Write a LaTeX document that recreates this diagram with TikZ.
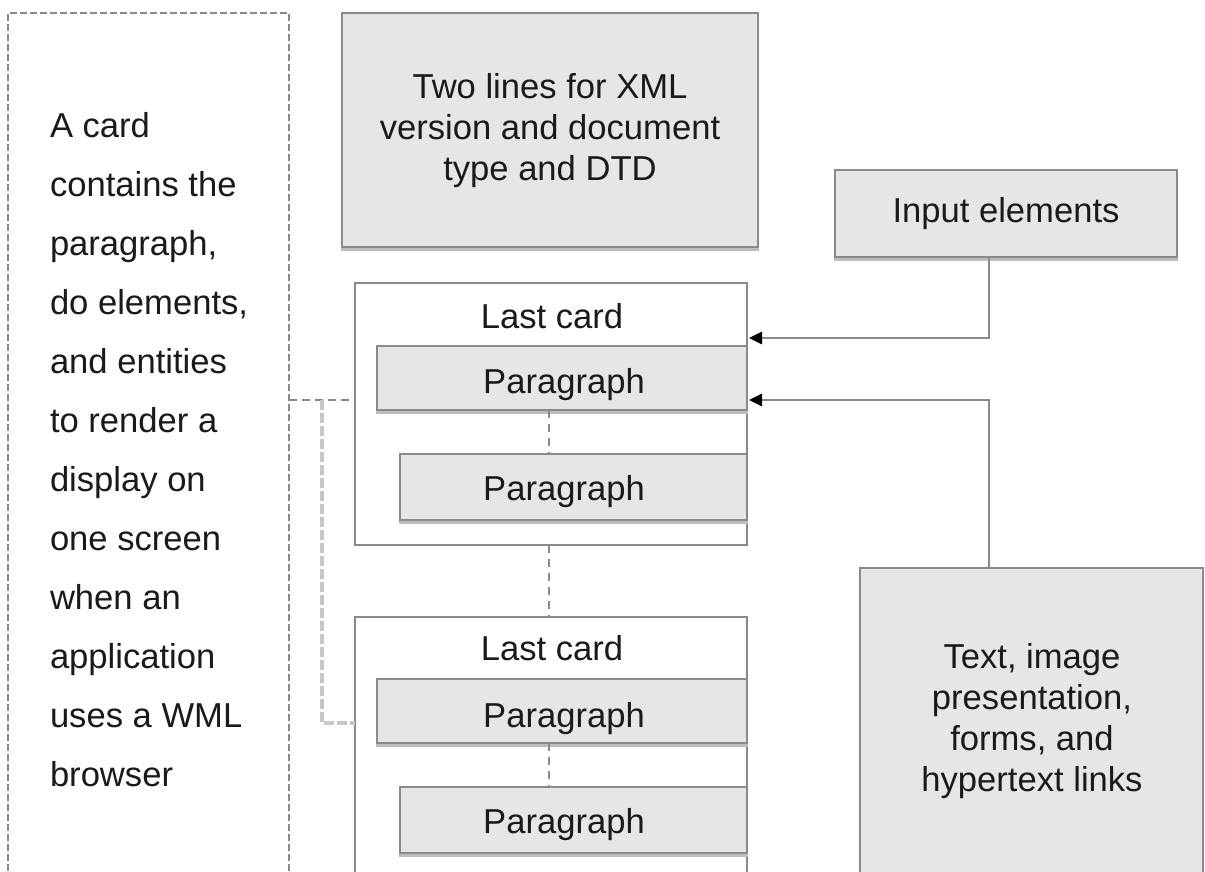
\documentclass[tikz,border=0pt]{standalone}
\usepackage{fontspec}
\setmainfont{Liberation Sans}
\usetikzlibrary{fit,arrows.meta,calc}
\definecolor{bordergray}{HTML}{8A8A8A}
\definecolor{boxgray}{HTML}{E6E6E6}
\definecolor{shadowc}{HTML}{BDBDBD}
\definecolor{lightdashc}{HTML}{C6C6C6}
\definecolor{txtc}{HTML}{1A1A1A}
\begin{document}
\begin{tikzpicture}[x=0.5pt,y=-0.5pt,
  every node/.style={inner sep=0pt, outer sep=0pt, text=txtc},
  lblfont/.style={font=\fontsize{17.3}{20.5}\selectfont},
  gbox/.style={draw=bordergray, fill=boxgray, line width=1.3pt,
    preaction={draw=shadowc, line width=1.3pt, transform canvas={yshift=-1.3pt}}},
  wbox/.style={draw=bordergray, fill=white, line width=1.3pt},
  dbox/.style={draw=bordergray, line width=1pt, dash pattern=on 3.5pt off 1.5pt},
  txt/.style={lblfont, align=center},
  conn/.style={draw=bordergray, line width=1.3pt, -{Triangle[length=6.5pt,width=6pt,color=black]}},
  darkdash/.style={draw=bordergray, line width=1.2pt, dash pattern=on 4pt off 2.5pt},
  lightdash/.style={draw=lightdashc, line width=2.4pt, dash pattern=on 5pt off 1.5pt},
  pdash/.style={draw=bordergray, line width=1.2pt, dash pattern=on 4pt off 3pt}
]
\useasboundingbox (0,0) rectangle (1205,872);
\clip (0,0) rectangle (1205,872);
\fill[white] (0,0) rectangle (1205,872);

% left annotation box
\node[dbox, fit={(8,13)(289,910)}] (lbox) {};
\node[anchor=north west, align=left, font=\fontsize{17.3}{29.5}\selectfont] (ltext) at (50,112)
  {A card\\contains the\\paragraph,\\do elements,\\and entities\\to render a\\display on\\one screen\\when an\\application\\uses a WML\\browser};

% top boxes
\node[gbox, fit={(342,13)(758,247)}] (xml) {};
\node[txt, anchor=north] (xmlt) at (550,73) {Two lines for XML\\version and document\\type and DTD};
\node[gbox, fit={(835,170)(1177,257)}] (inp) {};
\node[txt, anchor=base] (inpt) at (1006,222) {Input elements};

% first card
\node[wbox, fit={(355,283)(747,545)}] (card1) {};
\node[txt, anchor=base] (lc1) at (552,328) {Last card};
\node[gbox, fit={(377,346)(747,410)}] (p1) {};
\node[txt, anchor=base] (p1t) at (564,393) {Paragraph};
\node[gbox, fit={(400,454)(747,520)}] (p2) {};
\node[txt, anchor=base] (p2t) at (564,500) {Paragraph};

% second card
\node[wbox, fit={(355,617)(747,910)}] (card2) {};
\node[txt, anchor=base] (lc2) at (552,660) {Last card};
\node[gbox, fit={(377,679)(747,743)}] (p3) {};
\node[txt, anchor=base] (p3t) at (564,727) {Paragraph};
\node[gbox, fit={(400,787)(747,853)}] (p4) {};
\node[txt, anchor=base] (p4t) at (564,833) {Paragraph};

% text box
\node[gbox, fit={(860,568)(1203,910)}] (tb) {};
\node[txt, anchor=north] (tbt) at (1032,643) {Text, image\\presentation,\\forms, and\\hypertext links};

% coordinates for connectors
\coordinate (jx) at (989,0);
\coordinate (a1) at (749,338);
\coordinate (a2) at (749,400);
\coordinate (mx) at (549,0);
\coordinate (vx) at (322,400);
\coordinate (h2) at (0,723);

% connectors
\draw[conn] (inp.south -| jx) |- (a1);
\draw[conn] (tb.north -| jx) |- (a2);
\draw[darkdash] (lbox.east |- a2) -- (card1.west |- a2);
\draw[lightdash] (vx) |- (card2.west |- h2);
\draw[pdash] (p1.south -| mx) -- (p2.north -| mx);
\draw[pdash] (card1.south -| mx) -- (card2.north -| mx);
\draw[pdash] (p3.south -| mx) -- (p4.north -| mx);
\end{tikzpicture}
\end{document}
